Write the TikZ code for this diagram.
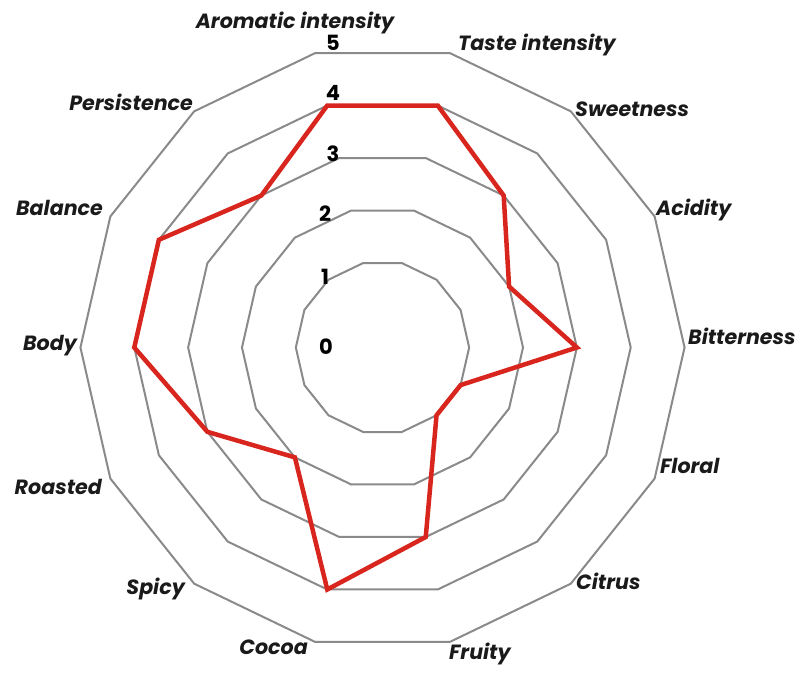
\documentclass[tikz,border=0pt]{standalone}
\usepackage{fontspec}
\setmainfont{Poppins}
\definecolor{ringgray}{HTML}{8A8A8A}
\definecolor{seriesred}{HTML}{D8261E}
\definecolor{labelblack}{HTML}{1A1A1A}
\begin{document}
\begin{tikzpicture}[x=1pt,y=1pt,
  ring/.style={draw=ringgray, line width=2pt},
  series/.style={draw=seriesred, line width=4.5pt, line join=miter},
  axislabel/.style={font=\fontsize{20.6}{24}\selectfont\bfseries\itshape, text=labelblack, inner sep=0pt, text height=15pt, text depth=0pt},
  ticklabel/.style={font=\fontsize{21}{23}\selectfont\bfseries, text=black, inner sep=0pt, text height=15pt, text depth=0pt}]
\useasboundingbox (-382.5,-325.5) rectangle (425.5,347.5);
\foreach \v in {1,...,5}
  \draw[ring] (102.857:{(32+52.5*\v)/0.97493}) \foreach \i in {1,...,13} { -- ({102.857-25.714*\i}:{(32+52.5*\v)/0.97493}) } -- cycle;
\foreach \s [count=\i from 0] in {4,4,3,2,3,1,1,3,4,2,3,4,4,3}
  \coordinate (s\i) at ({102.857-25.714*\i}:{(32+52.5*\s)/0.97493});
\draw[series] (s0) \foreach \i in {1,...,13} { -- (s\i) } -- cycle;
\node[axislabel] (aroma) at (-87.5,326.5) {Aromatic intensity};
\node[axislabel, anchor=west] (taste) at (75.5,304.5) {Taste intensity};
\node[axislabel, anchor=west] (sweet) at (192.5,238.5) {Sweetness};
\node[axislabel, anchor=west] (acid) at (273.5,139.5) {Acidity};
\node[axislabel, anchor=west] (bitter) at (305.5,10.5) {Bitterness};
\node[axislabel, anchor=west] (floral) at (277.5,-118.5) {Floral};
\node[axislabel, anchor=west] (citrus) at (193.5,-234.5) {Citrus};
\node[axislabel, anchor=west] (fruity) at (66.5,-304.5) {Fruity};
\node[axislabel, anchor=east] (cocoa) at (-74.5,-299.5) {Cocoa};
\node[axislabel, anchor=east] (spicy) at (-197.5,-239.5) {Spicy};
\node[axislabel, anchor=east] (roasted) at (-280.5,-139.5) {Roasted};
\node[axislabel, anchor=east] (body) at (-305.5,4.5) {Body};
\node[axislabel, anchor=east] (balance) at (-279.5,139.5) {Balance};
\node[axislabel, anchor=east] (persist) at (-189.5,244.5) {Persistence};
\node[ticklabel] (t5) at (-49.5,304.5) {5};
\node[ticklabel] (t4) at (-49.5,254.5) {4};
\node[ticklabel] (t3) at (-49.5,193.5) {3};
\node[ticklabel] (t2) at (-57.5,133.5) {2};
\node[ticklabel] (t1) at (-57.5,70.5) {1};
\node[ticklabel] (t0) at (-56.5,0.5) {0};
\end{tikzpicture}
\end{document}
